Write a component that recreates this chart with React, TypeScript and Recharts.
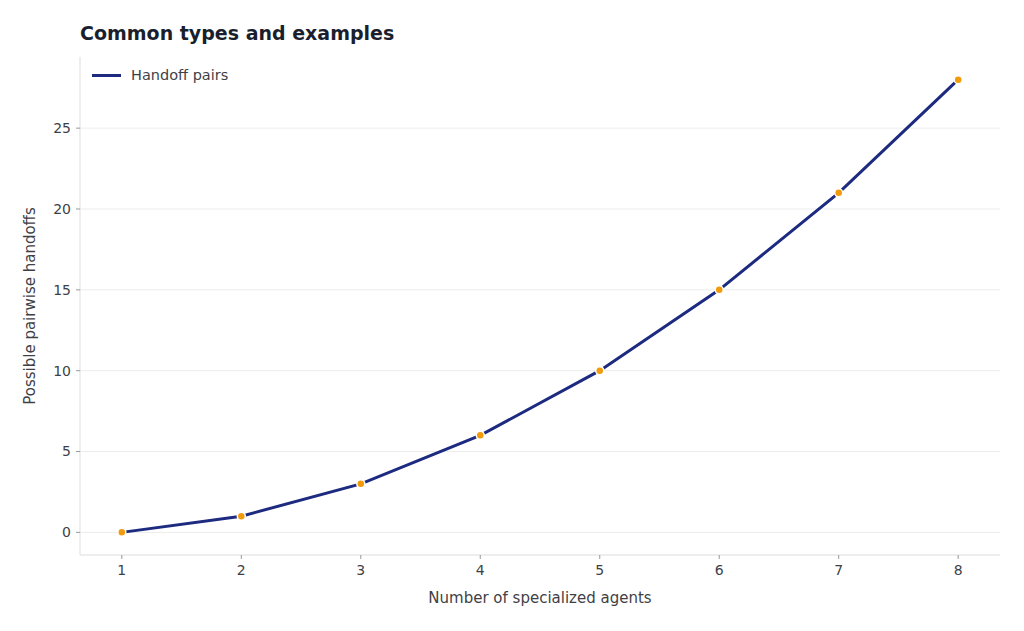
import { LineChart, Line, XAxis, YAxis, CartesianGrid } from 'recharts'

const agents = [1, 2, 3, 4, 5, 6, 7, 8]
const handoffPairs = [0, 1, 3, 6, 10, 15, 21, 28]
const xTicks = [1, 2, 3, 4, 5, 6, 7, 8]
const yTicks = [0, 5, 10, 15, 20, 25]

const data = agents.map((n, i) => ({ agents: n, pairs: handoffPairs[i] }))

const font = "'DejaVu Sans', sans-serif"
const navy = '#1c2a80'
const orange = '#f09a0c'
const axisGray = '#dddddd'
const textGray = '#3f3f46'

export default function App() {
  return (
    <div style={{ position:'absolute', left:0, top:0, width:1024, height:631,
      background:'#fff', fontFamily:font }}>
      <div style={{ position:'absolute', left:80, top:22, fontSize:19, fontWeight:'bold',
        color:'#1a1f2e' }}>
        Common types and examples
      </div>
      <LineChart width={1024} height={631} data={data}
        margin={{ top:57, right:24, left:20, bottom:20 }}>
        <CartesianGrid horizontal vertical={false} stroke='#ececec'
          horizontalValues={yTicks} />
        <XAxis dataKey='agents' type='number' domain={[0.65, 8.35]} ticks={xTicks}
          allowDataOverflow stroke={axisGray} tickSize={4} tickMargin={6} height={56}
          tick={{ fontSize:14, fill:textGray, fontFamily:font }}
          tickLine={{ stroke:'#999' }}
          label={{ value:'Number of specialized agents', position:'insideBottom', offset:8,
            style:{ fontSize:15, fill:textGray, fontFamily:font } }} />
        <YAxis type='number' domain={[-1.4, 29.4]} ticks={yTicks} allowDataOverflow
          stroke={axisGray} tickSize={4} tickMargin={5} width={60}
          tick={{ fontSize:14, fill:textGray, fontFamily:font }}
          tickLine={{ stroke:'#999' }}
          label={{ value:'Possible pairwise handoffs', angle:-90, position:'insideLeft',
            offset:10, style:{ fontSize:15, fill:textGray, fontFamily:font, textAnchor:'middle' } }} />
        <Line type='linear' dataKey='pairs' stroke={navy} strokeWidth={3}
          dot={{ r:4, fill:orange, stroke:'#fff', strokeWidth:1.5 }}
          activeDot={false} isAnimationActive={false} />
      </LineChart>
      <div style={{ position:'absolute', left:92, top:67, display:'flex', alignItems:'center',
        fontSize:14.5, color:textGray }}>
        <span style={{ display:'inline-block', width:29, height:3, background:navy,
          marginRight:10 }} />
        Handoff pairs
      </div>
    </div>
  )
}
